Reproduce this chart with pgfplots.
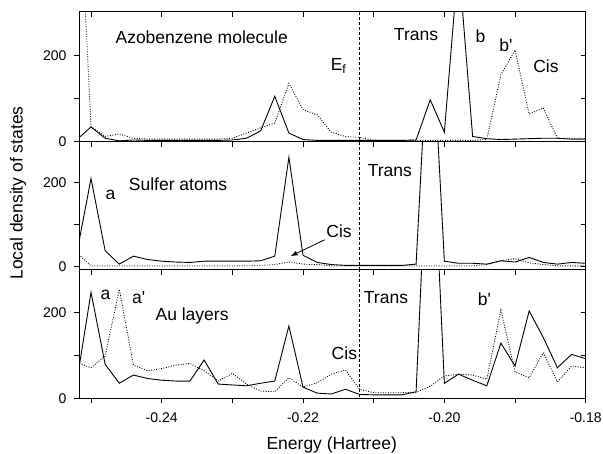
\documentclass[border=0pt]{standalone}
\usepackage{fontspec}
\setmainfont{Liberation Sans}
\usepackage{pgfplots}
\usepackage{pgfplotstable}
\pgfplotsset{compat=1.18}
\usetikzlibrary{arrows.meta}

% local density of states, trans (t) and cis (c)
\pgfplotstableread{
E      azot azoc  st   sc   aut  auc
-0.252   5  700   33   33   40   83
-0.250  34   35  210    2  246   71
-0.248   8   12   38    2   79   98
-0.246   2   18    6    2   35  253
-0.244   4    8   25    2   54   77
-0.242   3    6   17    2   46   64
-0.240   3    6   13    2   42   69
-0.238   3    6   11    2   40   77
-0.236   3    6   10    2   40   81
-0.234   3    6   13    2   89   64
-0.232   3    6   13    2   33   40
-0.230   4    8   13    2   31   58
-0.228   8   20   13    2   29   33
-0.226  25   32   14    3   35   17
-0.224 105   43   25    5   40   15
-0.222  20  135  261   11  168   48
-0.220   5   74   27    6   26   26
-0.218   3   62   10    5   12   36
-0.216   3   22    5    2   10   56
-0.214   3   12    3    2   21   66
-0.212   3   10    3    2    9   21
-0.210   3    3    3    2    8   13
-0.208   3    3    3    2    8   13
-0.206   3    3    3    2    8   13
-0.204   4    3    6    2   15   14
-0.202  97    3  650    2  750   28
-0.200  22    3   13    2   35   52
-0.198 420    3    8    2   56   56
-0.196  12    3    8    2   42   54
-0.194   7    5    6    5   29   44
-0.192   5  155   14   14  128  205
-0.190   6  212   11   19   75   61
-0.188   7   64   22    9  203   48
-0.186   8   78   10    5  141  106
-0.184   8    8    6    2   71   38
-0.182   6    8   10    2  102   75
-0.180   6    8    8    2   92   71
}\lds

\pgfplotsset{
  panel/.style={
    scale only axis, anchor=south west, width=506.7bp, height=128.3bp,
    xmin=-0.2517, xmax=-0.18,
    xtick={-0.25,-0.24,-0.23,-0.22,-0.21,-0.20,-0.19,-0.18},
    xticklabels={},
    ytick={0,100,200},
    major tick length=5bp,
    every tick/.style={black,line width=0.8bp},
    axis line style={line width=1bp},
    tick label style={font=\fontsize{14bp}{16bp}\selectfont},
    xticklabel style={yshift=-6bp},
    yticklabel style={xshift=-4bp},
  },
  lowerticks/.style={xtick pos=bottom, ytick pos=left, tick align=outside,
    yticklabels={0,,200}},
  upperticks/.style={xtick pos=top, ytick pos=right, tick align=inside,
    yticklabels={}},
  tr/.style={black, line width=0.9bp},
  ci/.style={black, line width=0.9bp, dash pattern=on 0.9bp off 1.6bp},
  ef/.style={black, line width=0.8bp, dash pattern=on 3bp off 2bp},
}
\tikzset{lab/.style={font=\fontsize{17.5bp}{20bp}\selectfont, inner sep=0pt}}
\newcommand\pr{\textquotesingle}

\begin{document}
\begin{tikzpicture}
\useasboundingbox (0,0) rectangle (603bp,454bp);

% azobenzene molecule
\begin{axis}[panel, lowerticks, at={(79bp,312.3bp)}, height=129.7bp, ymin=0, ymax=300]
\addplot[tr] table[x=E,y=azot]{\lds};
\addplot[ci] table[x=E,y=azoc]{\lds};
\addplot[ef] coordinates {(-0.212,-20) (-0.212,320)};
\node[lab,anchor=west] at (-0.24655,241) {Azobenzene molecule};
\node[lab] at (-0.21497,175) {E\textsubscript{f}};
\node[lab] at (-0.20401,248) {Trans};
\node[lab] at (-0.19489,243) {b};
\node[lab] at (-0.19129,224) {b\pr};
\node[lab] at (-0.18563,174) {Cis};
\end{axis}
\begin{axis}[panel, upperticks, at={(79bp,312.3bp)}, height=129.7bp, ymin=0, ymax=300]
\end{axis}

% sulfer atoms
\begin{axis}[panel, lowerticks, at={(79bp,184bp)}, ymin=-8, ymax=298]
\addplot[tr] table[x=E,y=st]{\lds};
\addplot[ci] table[x=E,y=sc]{\lds};
\addplot[ef] coordinates {(-0.212,-20) (-0.212,320)};
\node[lab] at (-0.24726,171) {a};
\node[lab,anchor=west] at (-0.24467,197) {Sulfer atoms};
\node[lab] at (-0.20772,229) {Trans};
\node[lab] at (-0.2149,84) {Cis};
\draw[line width=0.8bp,-{Latex[length=7bp,width=5bp]}] (-0.21695,64) -- (-0.22176,25);
\end{axis}
\begin{axis}[panel, upperticks, at={(79bp,184bp)}, ymin=-8, ymax=298]
\end{axis}

% Au layers
\begin{axis}[panel, lowerticks, at={(79bp,55.7bp)}, ymin=0, ymax=298,
  xticklabels={,-0.24,,-0.22,,-0.20,,-0.18}]
\addplot[tr] table[x=E,y=aut]{\lds};
\addplot[ci] table[x=E,y=auc]{\lds};
\addplot[ef] coordinates {(-0.212,-20) (-0.212,320)};
\node[lab] at (-0.24796,240) {a};
\node[lab] at (-0.24325,233) {a\pr};
\node[lab,anchor=west] at (-0.24089,191) {Au layers};
\node[lab] at (-0.21415,105) {Cis};
\node[lab] at (-0.20826,233) {Trans};
\node[lab] at (-0.19432,229) {b\pr};
\end{axis}
\begin{axis}[panel, upperticks, at={(79bp,55.7bp)}, ymin=0, ymax=298]
\end{axis}

\node[lab,rotate=90] at (18bp,261bp) {Local density of states};
\node[lab] at (331.7bp,9bp) {Energy (Hartree)};
\end{tikzpicture}
\end{document}
